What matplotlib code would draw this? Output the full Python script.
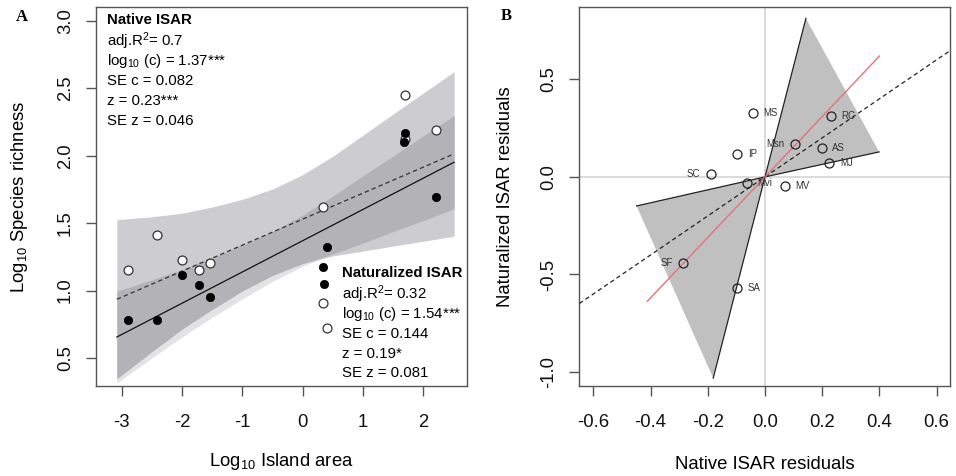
import matplotlib
matplotlib.use('Agg')
import matplotlib.pyplot as plt
import numpy as np

plt.rcParams['font.family'] = ['Liberation Sans', 'DejaVu Sans']
plt.rcParams['mathtext.fontset'] = 'custom'
plt.rcParams['mathtext.rm'] = 'Liberation Sans'
plt.rcParams['mathtext.it'] = 'Liberation Sans:italic'
plt.rcParams['mathtext.bf'] = 'Liberation Sans:bold'

# ---------------- Panel A data ----------------
open_x = [1.70, 2.21, 1.69, 0.34, -2.42, -2.89, -2.00, -1.72, -1.53, 0.34, 0.40]
open_y = [2.45, 2.195, 2.128, 1.62, 1.41, 1.149, 1.23, 1.149, 1.206, 0.905, 0.725]
filled_x = [1.70, 1.68, 2.21, 0.40, 0.33, 0.36, -2.00, -1.72, -1.53, -2.89, -2.42]
filled_y = [2.17, 2.103, 1.695, 1.322, 1.172, 1.046, 1.117, 1.042, 0.953, 0.78, 0.78]

# fitted lines (intercept, slope) and their x range
dashed_c, dashed_z = 1.53, 0.193
solid_c, solid_z = 1.37, 0.232
fit_x = [-3.08, 2.51]

# confidence bands read at sample positions
band_x = [-3.08, -2.5, -2.0, -1.5, -1.0, -0.5, 0.0, 0.5, 1.0, 1.5, 2.0, 2.51]
dashed_band_hi = [1.526, 1.547, 1.574, 1.62, 1.677, 1.753, 1.86, 1.997, 2.153, 2.31, 2.466, 2.624]
dashed_band_lo = [0.346, 0.547, 0.714, 0.86, 0.997, 1.113, 1.2, 1.257, 1.293, 1.33, 1.366, 1.404]
solid_band_hi = [0.995, 1.08, 1.156, 1.242, 1.338, 1.439, 1.56, 1.701, 1.852, 1.998, 2.149, 2.297]
solid_band_lo = [0.315, 0.50, 0.656, 0.802, 0.938, 1.069, 1.18, 1.271, 1.352, 1.438, 1.519, 1.607]

native_text = ["adj.R$^2$= 0.7", "log$_{10}$ (c) = 1.37***", "SE c = 0.082",
               "z = 0.23***", "SE z = 0.046"]
natur_text = ["adj.R$^2$= 0.32", "log$_{10}$ (c) = 1.54***", "SE c = 0.144",
              "z = 0.19*", "SE z = 0.081"]

xticks_A = [-3, -2, -1, 0, 1, 2]
yticks_A = [0.5, 1.0, 1.5, 2.0, 2.5, 3.0]

# ---------------- Panel B data ----------------
site_labels = ["MS", "RC", "Msn", "IP", "AS", "MJ", "SC", "Mvi", "MV", "SF", "SA"]
native_resid = [-0.041, 0.231, 0.105, -0.097, 0.198, 0.225, -0.190, -0.064, 0.071, -0.286, -0.097]
natur_resid = [0.325, 0.313, 0.171, 0.116, 0.146, 0.069, 0.014, -0.031, -0.046, -0.439, -0.567]
label_side = ["r", "r", "l", "r", "r", "r", "l", "r", "r", "l", "r"]

tri_up_x = [0.0, 0.143, 0.399]
tri_up_y = [0.0, 0.812, 0.128]
tri_dn_x = [0.0, -0.449, -0.181]
tri_dn_y = [0.0, -0.149, -1.031]

red_x = [-0.411, 0.400]
red_y = [-0.637, 0.619]

xticks_B = [-0.6, -0.4, -0.2, 0.0, 0.2, 0.4, 0.6]
yticks_B = [-1.0, -0.5, 0.0, 0.5]

# ---------------- Figure ----------------
fig = plt.figure(figsize=(9.56, 4.76), dpi=100)
axA = fig.add_axes([0.1004, 0.1891, 0.3881, 0.7962])
axB = fig.add_axes([0.606, 0.1897, 0.3878, 0.7962])

spine_col = '#555555'
for ax in (axA, axB):
    for s in ax.spines.values():
        s.set_color(spine_col)
        s.set_linewidth(1.0)
    ax.tick_params(direction='out', length=7, width=1.0, color=spine_col,
                   labelsize=13.3, labelcolor='#111111')
    ax.tick_params(axis='x', pad=13.5)
    ax.tick_params(axis='y', pad=9)

# Panel A
bx = np.array(band_x)
dhi, dlo = np.array(dashed_band_hi), np.array(dashed_band_lo)
shi, slo = np.array(solid_band_hi), np.array(solid_band_lo)
axA.fill_between(bx, slo, shi, color='#e3e3e5', lw=0, zorder=1)
axA.fill_between(bx, dlo, dhi, color='#cdcdd1', lw=0, zorder=2)
ohi = np.minimum(dhi, shi)
olo = np.maximum(dlo, slo)
axA.fill_between(bx, olo, ohi, where=ohi > olo, color='#b3b3b7', lw=0, zorder=3)

fx = np.array(fit_x)
axA.plot(fx, dashed_c + dashed_z * fx, color='#333333', lw=0.9, ls=(0, (3.5, 2.5)), zorder=4)
axA.plot(fx, solid_c + solid_z * fx, color='#111111', lw=0.9, zorder=4)

axA.plot(open_x, open_y, 'o', ms=6.4, mfc='white', mec='#333333', mew=0.9, zorder=5)
axA.plot(filled_x, filled_y, 'o', ms=6.0, mfc='black', mec='black', mew=0.5, zorder=6)

axA.set_xlim(-3.426, 2.724)
axA.set_ylim(0.292, 3.104)
axA.set_xticks(xticks_A)
axA.set_xticklabels([str(v) for v in xticks_A])
axA.set_yticks(yticks_A)
axA.set_yticklabels([f"{v:.1f}" for v in yticks_A], rotation=90, va='center')
axA.set_xlabel("Log$_{10}$ Island area", fontsize=13.3, labelpad=14)
axA.set_ylabel("Log$_{10}$ Species richness", fontsize=13.3, labelpad=19)

fs_t = 10.8
axA.text(0.030, 0.966, "Native ISAR", transform=axA.transAxes, fontsize=fs_t,
         fontweight='bold', va='center', ha='left', zorder=10)
for i, t in enumerate(native_text):
    axA.text(0.030, 0.910 - i * 0.0525, t, transform=axA.transAxes, fontsize=fs_t,
             va='center', ha='left', zorder=10)
axA.text(0.664, 0.298, "Naturalized ISAR", transform=axA.transAxes, fontsize=fs_t,
         fontweight='bold', va='center', ha='left', zorder=10)
for i, t in enumerate(natur_text):
    axA.text(0.664, 0.243 - i * 0.0525, t, transform=axA.transAxes, fontsize=fs_t,
             va='center', ha='left', zorder=10)

fig.text(21.7 / 956, 1 - 17 / 476, "A", fontsize=12, fontweight='bold',
         family='Liberation Serif', ha='center', va='center')
fig.text(506.7 / 956, 1 - 16 / 476, "B", fontsize=12, fontweight='bold',
         family='Liberation Serif', ha='center', va='center')

# Panel B
axB.axhline(0, color='#d6d6d6', lw=1.2, zorder=1)
axB.axvline(0, color='#d6d6d6', lw=1.2, zorder=1)
axB.fill(tri_up_x, tri_up_y, color='#c0c0c0', lw=0, zorder=2)
axB.fill(tri_dn_x, tri_dn_y, color='#c0c0c0', lw=0, zorder=2)
for tx, ty in ((tri_up_x, tri_up_y), (tri_dn_x, tri_dn_y)):
    for k in (1, 2):
        axB.plot([tx[0], tx[k]], [ty[0], ty[k]], color='#222222', lw=0.9, zorder=3)
axB.axline((0, 0), slope=1, color='#222222', lw=0.9, ls=(0, (3.5, 2.5)), zorder=4)
axB.plot(red_x, red_y, color='#e8707c', lw=1.0, zorder=4)
axB.plot(native_resid, natur_resid, 'o', ms=6.5, mfc='none', mec='#222222', mew=0.9, zorder=5)
for lab, x, y, side in zip(site_labels, native_resid, natur_resid, label_side):
    if side == 'r':
        axB.annotate(lab, (x, y), xytext=(7.5, 0), textcoords='offset points',
                     ha='left', va='center', fontsize=6.9, color='#333333', zorder=6)
    else:
        axB.annotate(lab, (x, y), xytext=(-7.5, 0), textcoords='offset points',
                     ha='right', va='center', fontsize=6.9, color='#333333', zorder=6)

axB.set_xlim(-0.649, 0.647)
axB.set_ylim(-1.070, 0.872)
axB.set_xticks(xticks_B)
axB.set_xticklabels([f"{v:.1f}" for v in xticks_B])
axB.set_yticks(yticks_B)
axB.set_yticklabels([f"{v:.1f}" for v in yticks_B], rotation=90, va='center')
axB.set_xlabel("Native ISAR residuals", fontsize=13.3, labelpad=18)
axB.set_ylabel("Naturalized ISAR residuals", fontsize=13.3, labelpad=19)

fig.savefig("out.png", dpi=100)
